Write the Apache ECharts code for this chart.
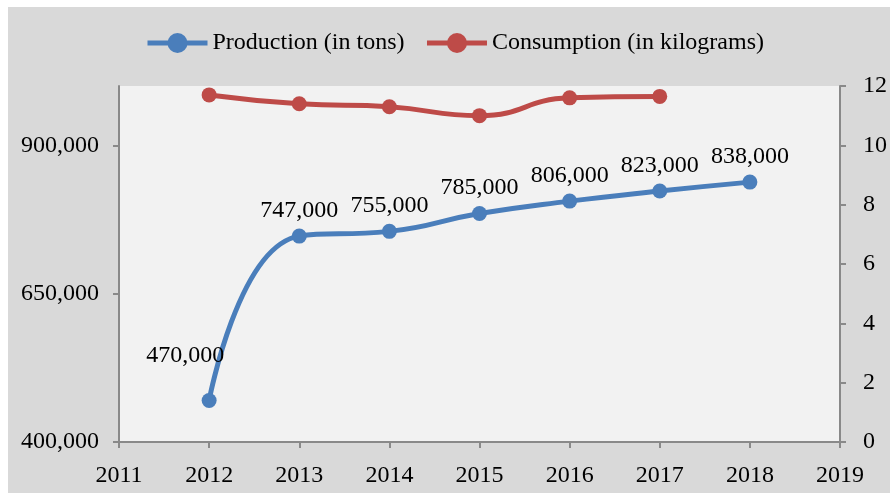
<!DOCTYPE html>
<html>
<head>
<meta charset="utf-8">
<script src="https://cdn.jsdelivr.net/npm/echarts@6/dist/echarts.min.js"></script>
<style>
html,body{margin:0;padding:0;background:#fff;}
#chart{width:890px;height:493px;background:linear-gradient(#d9d9d9,#d9d9d9) no-repeat 8px 7px / 882px 486px;}
</style>
</head>
<body>
<div id="chart"></div>
<script>
const years = [2012, 2013, 2014, 2015, 2016, 2017, 2018];
const production = [470000, 747000, 755000, 785000, 806000, 823000, 838000];
const consumptionYears = [2012, 2013, 2014, 2015, 2016, 2017];
const consumption = [11.7, 11.4, 11.3, 11.0, 11.6, 11.65];
const leftTicks = [400000, 650000, 900000];
const seriesNames = ['Production (in tons)', 'Consumption (in kilograms)'];

const FONT = 'Liberation Serif';
const fmt = v => v.toLocaleString('en-US');
const axisColor = '#898989';

const chart = echarts.init(document.getElementById('chart'), null, {renderer: 'canvas'});

const prodData = years.map((y, i) => {
  const item = {value: [y, production[i]]};
  if (i === 0) item.label = {offset: [-24, -19]};
  return item;
});
const consData = consumptionYears.map((y, i) => [y, consumption[i]]);

chart.setOption({
  backgroundColor: 'transparent',
  textStyle: {fontFamily: FONT, color: '#000'},
  legend: {
    top: 26,
    left: 140,
    itemWidth: 60,
    itemHeight: 25,
    itemGap: 20,
    lineStyle: {width: 5},
    textStyle: {fontFamily: FONT, fontSize: 24, color: '#000'},
    data: seriesNames
  },
  grid: {left: 119, right: 46, top: 86, bottom: 51, show: true, backgroundColor: '#f2f2f2', borderWidth: 0},
  xAxis: {
    type: 'value', min: 2011, max: 2019, interval: 1,
    axisLine: {show: true, lineStyle: {color: axisColor, width: 2}},
    axisTick: {show: true, length: 6, lineStyle: {color: axisColor, width: 2}},
    splitLine: {show: false},
    axisLabel: {margin: 22, fontSize: 24, fontFamily: FONT, color: '#000', formatter: v => String(v)}
  },
  yAxis: [
    {
      type: 'value', min: 400000, max: 1000000, interval: 250000, position: 'left',
      axisLine: {show: true, lineStyle: {color: axisColor, width: 2}},
      axisTick: {show: true, length: 6, customValues: leftTicks, lineStyle: {color: axisColor, width: 2}},
      splitLine: {show: false},
      axisLabel: {margin: 20, fontSize: 24, fontFamily: FONT, color: '#000', customValues: leftTicks, formatter: v => fmt(v)}
    },
    {
      type: 'value', min: 0, max: 12, interval: 2, position: 'right',
      axisLine: {show: true, lineStyle: {color: axisColor, width: 2}},
      axisTick: {show: true, length: 6, lineStyle: {color: axisColor, width: 2}},
      splitLine: {show: false},
      axisLabel: {margin: 23, fontSize: 24, fontFamily: FONT, color: '#000'}
    }
  ],
  series: [
    {
      name: seriesNames[0], type: 'line', yAxisIndex: 0, smooth: 0.5,
      data: prodData,
      symbol: 'circle', symbolSize: 15,
      lineStyle: {width: 5, color: '#4a7ebb'},
      itemStyle: {color: '#4a7ebb'},
      label: {show: true, position: 'top', distance: 6, fontSize: 24, fontFamily: FONT, color: '#000',
        formatter: p => fmt(p.value[1])}
    },
    {
      name: seriesNames[1], type: 'line', yAxisIndex: 1, smooth: 0.5,
      data: consData,
      symbol: 'circle', symbolSize: 15,
      lineStyle: {width: 5, color: '#be4b48'},
      itemStyle: {color: '#be4b48'}
    }
  ],
  animation: false
});
</script>
</body>
</html>
